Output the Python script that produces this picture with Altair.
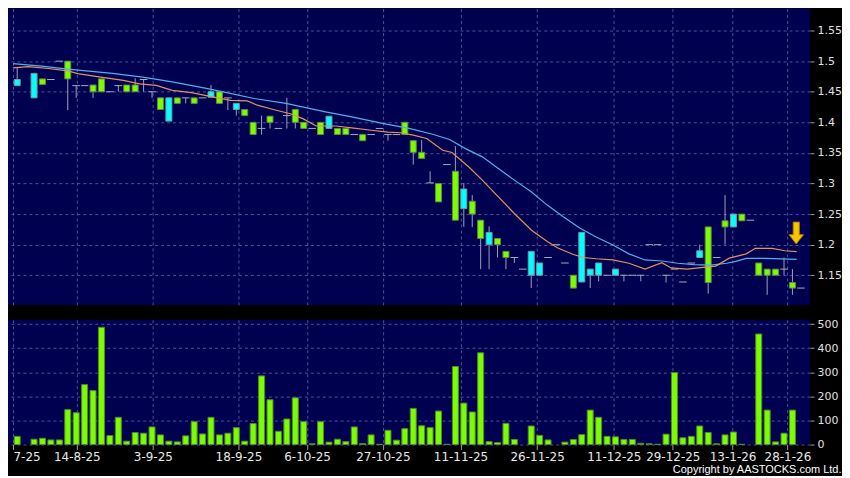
import altair as alt
import pandas as pd

# ---------------- data ----------------
slots = list(range(94))

open_ = [1.470, None, 1.480, 1.462, 1.470, 1.500, 1.471, 1.460, 1.460, 1.450,
         1.450, 1.450, 1.460, 1.450, 1.450, 1.470, 1.450, 1.421, 1.440, 1.431,
         1.440, 1.431, 1.440, 1.450, 1.431, 1.440, 1.431, 1.411, 1.380, 1.390,
         1.400, 1.390, 1.411, 1.400, 1.390, 1.390, 1.380, 1.410, 1.380, 1.380,
         1.380, 1.370, 1.380, 1.390, 1.380, 1.380, 1.380, 1.351, 1.341, 1.301,
         1.270, 1.331, 1.240, 1.291, 1.250, 1.210, 1.220, 1.200, 1.179, 1.179,
         1.160, 1.189, 1.170, 1.179, 1.200, 1.170, 1.129, 1.220, 1.160, 1.170,
         1.150, 1.160, 1.150, 1.150, 1.150, 1.200, 1.200, 1.150, 1.160, 1.139,
         1.170, 1.190, 1.138, 1.179, 1.229, 1.250, 1.239, 1.240, 1.150, 1.150,
         1.150, 1.160, 1.129, 1.129]
high = [1.490, None, 1.481, 1.471, 1.470, 1.500, 1.500, 1.460, 1.460, 1.461,
        1.471, 1.450, 1.460, 1.461, 1.472, 1.470, 1.450, 1.440, 1.440, 1.440,
        1.440, 1.440, 1.440, 1.461, 1.450, 1.440, 1.431, 1.421, 1.400, 1.411,
        1.410, 1.390, 1.440, 1.421, 1.400, 1.390, 1.400, 1.410, 1.390, 1.390,
        1.380, 1.380, 1.380, 1.390, 1.380, 1.380, 1.400, 1.370, 1.371, 1.320,
        1.300, 1.331, 1.361, 1.301, 1.281, 1.240, 1.230, 1.210, 1.189, 1.179,
        1.160, 1.189, 1.170, 1.179, 1.200, 1.170, 1.150, 1.220, 1.160, 1.170,
        1.150, 1.160, 1.150, 1.150, 1.150, 1.200, 1.200, 1.150, 1.160, 1.139,
        1.170, 1.200, 1.229, 1.179, 1.281, 1.250, 1.250, 1.240, 1.170, 1.160,
        1.160, 1.179, 1.160, 1.129]
low = [1.460, None, 1.440, 1.462, 1.470, 1.500, 1.420, 1.440, 1.460, 1.440,
       1.450, 1.450, 1.450, 1.450, 1.450, 1.450, 1.440, 1.421, 1.402, 1.431,
       1.431, 1.431, 1.440, 1.441, 1.431, 1.420, 1.411, 1.411, 1.380, 1.380,
       1.390, 1.390, 1.390, 1.390, 1.390, 1.390, 1.380, 1.390, 1.380, 1.380,
       1.380, 1.370, 1.380, 1.390, 1.370, 1.380, 1.380, 1.331, 1.341, 1.301,
       1.270, 1.331, 1.240, 1.229, 1.229, 1.160, 1.160, 1.179, 1.160, 1.170,
       1.160, 1.129, 1.150, 1.179, 1.200, 1.170, 1.129, 1.139, 1.129, 1.140,
       1.150, 1.150, 1.140, 1.150, 1.140, 1.200, 1.200, 1.138, 1.160, 1.139,
       1.170, 1.179, 1.120, 1.179, 1.200, 1.229, 1.239, 1.240, 1.150, 1.118,
       1.150, 1.150, 1.118, 1.129]
close = [1.460, None, 1.440, 1.471, 1.470, 1.500, 1.500, 1.460, 1.460, 1.461,
         1.471, 1.450, 1.460, 1.461, 1.461, 1.470, 1.450, 1.440, 1.402, 1.440,
         1.440, 1.440, 1.440, 1.441, 1.450, 1.440, 1.421, 1.421, 1.400, 1.390,
         1.410, 1.390, 1.411, 1.421, 1.400, 1.390, 1.400, 1.390, 1.390, 1.390,
         1.380, 1.380, 1.380, 1.390, 1.380, 1.380, 1.400, 1.370, 1.351, 1.301,
         1.300, 1.331, 1.320, 1.259, 1.271, 1.240, 1.200, 1.210, 1.189, 1.179,
         1.160, 1.150, 1.150, 1.179, 1.200, 1.170, 1.150, 1.139, 1.150, 1.150,
         1.150, 1.150, 1.150, 1.150, 1.150, 1.200, 1.200, 1.150, 1.160, 1.139,
         1.170, 1.179, 1.229, 1.179, 1.239, 1.229, 1.250, 1.240, 1.170, 1.160,
         1.160, 1.160, 1.138, 1.129]
volume = [34, 0, 22, 26, 19, 19, 145, 132, 249, 224,
          487, 37, 113, 14, 50, 47, 73, 40, 14, 11,
          36, 95, 44, 113, 40, 47, 70, 14, 87, 285,
          186, 55, 106, 194, 95, 3, 95, 10, 22, 12,
          73, 4, 40, 1, 59, 18, 66, 150, 78, 70,
          139, 1, 324, 172, 135, 381, 12, 8, 88, 21,
          0, 77, 38, 19, 0, 10, 21, 41, 143, 113,
          34, 32, 21, 21, 5, 3, 1, 43, 299, 28,
          34, 77, 50, 3, 40, 52, 1, 0, 459, 143,
          11, 47, 143, 0]

# moving averages (read at selected positions)
ma_blue_slot = [-0.5, 2.9, 6, 11.3, 14.9, 18.4, 22.3, 24.6, 28.1, 31.9, 36.6, 39.7,
                43.5, 46.5, 49.3, 51.3, 53.2, 55.2, 57.1, 59.0, 61.0, 62.9, 64.8,
                66.8, 68.7, 70.7, 72.6, 74.5, 76.5, 78.4, 80.3, 82.3, 84.2, 85.3,
                86.5, 88.8, 92.5]
ma_blue_val = [1.496, 1.492, 1.487, 1.480, 1.474, 1.466, 1.456, 1.4495, 1.439, 1.431,
               1.417, 1.409, 1.398, 1.390, 1.3805, 1.372, 1.357, 1.3435, 1.3245,
               1.3055, 1.2864, 1.2647, 1.2456, 1.2267, 1.2125, 1.1995, 1.185,
               1.175, 1.1733, 1.1696, 1.1675, 1.1665, 1.1696, 1.1728, 1.1777,
               1.1777, 1.176]
ma_orange_slot = [-0.5, 1.3, 3.7, 6, 7.2, 9.9, 12.6, 14.5, 16.5, 18.4, 20.7, 22.3,
                  23.8, 25.3, 27.3, 28.5, 30.4, 32.4, 33.9, 35.5, 37.8, 39.7, 42,
                  44, 45.5, 47, 48.6, 50.5, 51.6, 53.6, 55.2, 57.1, 59, 61, 62.9,
                  64.1, 66, 67.2, 68.7, 70.7, 72.6, 74.5, 76.5, 77.6, 79.5, 81.4,
                  82.9, 84.5, 86.5, 87.6, 89.6, 91.1, 92.5]
ma_orange_val = [1.489, 1.491, 1.488, 1.484, 1.4795, 1.474, 1.4686, 1.463, 1.4605,
                 1.4523, 1.4485, 1.4441, 1.440, 1.436, 1.435, 1.428, 1.421, 1.414,
                 1.406, 1.394, 1.394, 1.391, 1.387, 1.384, 1.383, 1.379, 1.3735,
                 1.3544, 1.3507, 1.327, 1.3055, 1.278, 1.251, 1.224, 1.205, 1.195,
                 1.184, 1.179, 1.177, 1.175, 1.1696, 1.160, 1.1706, 1.162, 1.160,
                 1.163, 1.165, 1.178, 1.185, 1.194, 1.194, 1.190, 1.1885]

# x axis ticks (slot positions) and their labels
xtick_vals = [-0.5, 7.08, 16.1, 26.25, 34.4, 43.4, 52.6, 61.7, 70.8, 77.8, 84.9, 91.4]
xtick_labels = ["7-25", "14-8-25", "3-9-25", "18-9-25", "6-10-25", "27-10-25",
                "11-11-25", "26-11-25", "11-12-25", "29-12-25", "13-1-26", "28-1-26"]
price_ticks = [1.15, 1.2, 1.25, 1.3, 1.35, 1.4, 1.45, 1.5, 1.55]
vol_ticks = [0, 100, 200, 300, 400, 500]

# latest-signal arrow marker
arrow_slot = [92.45]
arrow_price = [1.219]

# ---------------- frames ----------------
df = pd.DataFrame({"slot": slots, "open": open_, "high": high, "low": low,
                   "close": close, "vol": volume})
df["kind"] = ["up" if (o is not None and c > o) else
              ("down" if (o is not None and c < o) else "flat")
              for o, c in zip(open_, close)]
blue = pd.DataFrame({"slot": ma_blue_slot, "ma": ma_blue_val})
orange = pd.DataFrame({"slot": ma_orange_slot, "ma": ma_orange_val})
arrow = pd.DataFrame({"slot": arrow_slot, "price": arrow_price})

# ---------------- styling ----------------
FONT = "DejaVu Sans"
GRID = "#4f4f9c"
XDOM = [-0.5, 93.5]
PDOM = [1.1016, 1.586]
VDOM = [0, 518]
W = 804

label_expr = ("[" + ",".join("'%s'" % s for s in xtick_labels) + "][indexof(["
              + ",".join(str(v) for v in xtick_vals) + "], datum.value)]")

x_price_axis = alt.Axis(values=xtick_vals, labels=False, ticks=False, domain=False,
                        grid=True, gridColor=GRID, gridDash=[3, 3], title=None)
x_vol_axis = alt.Axis(values=xtick_vals, labelExpr=label_expr,
                      labelAlign={"condition": {"test": "datum.value < 0",
                                                "value": "left"},
                                  "value": "center"},
                      labelOverlap=False, labelBound=False, domain=False,
                      grid=True, gridColor=GRID,
                      gridDash=[3, 3], tickColor="#9a9a9a", tickSize=5,
                      labelPadding=2, labelColor="#e8e8e8", labelFont=FONT,
                      labelFontSize=12, title=None)
y_price_axis = alt.Axis(values=price_ticks, orient="right", domain=False,
                        labelExpr="format(datum.value, '.2~f')", grid=True,
                        labelOverlap=False, labelBound=False,
                        gridColor=GRID, gridDash=[3, 3], tickColor="#9a9a9a",
                        tickSize=4, labelPadding=3, labelColor="#e0e0e0",
                        labelFont=FONT, labelFontSize=11, title=None)
y_vol_axis = alt.Axis(values=vol_ticks, orient="right", domain=False, format="d",
                      labelOverlap=False,
                      grid=True, gridColor=GRID, gridDash=[3, 3],
                      tickColor="#9a9a9a", tickSize=4, labelPadding=3,
                      labelColor="#e0e0e0", labelFont=FONT, labelFontSize=11,
                      title=None)

xs = alt.Scale(domain=XDOM, nice=False, zero=False)
ps = alt.Scale(domain=PDOM, nice=False, zero=False)


def X(field):
    return alt.X(field, scale=xs, axis=x_price_axis)


def Y(field):
    return alt.Y(field, scale=ps, axis=y_price_axis)


base = alt.Chart(df)

wicks = base.transform_filter(
    "isValid(datum.high) && datum.high > datum.low"
).mark_rule(color="#a0a0b4", strokeWidth=1).encode(
    x=X("slot:Q"), y=Y("low:Q"), y2="high:Q",
)

doji = base.transform_filter(
    "isValid(datum.open) && datum.open == datum.close"
).transform_calculate(
    xa="datum.slot - 0.45", xb="datum.slot + 0.45"
).mark_rule(color="#a8a8b8", strokeWidth=1).encode(
    x=X("xa:Q"), x2="xb:Q", y=Y("close:Q"),
)

bodies = base.transform_filter(
    "isValid(datum.open) && datum.open != datum.close"
).mark_bar(size=6, strokeWidth=1).encode(
    x=X("slot:Q"), y=Y("open:Q"), y2="close:Q",
    fill=alt.Fill("kind:N", scale=alt.Scale(domain=["up", "down"],
                                            range=["#7cfc00", "#00ffff"]),
                  legend=None),
    stroke=alt.Stroke("kind:N", scale=alt.Scale(domain=["up", "down"],
                                                range=["#5f8a45", "#6f9aa0"]),
                      legend=None),
)

ma_orange_line = alt.Chart(orange).mark_line(
    color="#e4905e", strokeWidth=1.2, interpolate="linear"
).encode(x=X("slot:Q"), y=Y("ma:Q"))

ma_blue_line = alt.Chart(blue).mark_line(
    color="#4fb0ee", strokeWidth=1.2, interpolate="linear"
).encode(x=X("slot:Q"), y=Y("ma:Q"))

arrow_shape = ("M-0.28,-1 L0.28,-1 L0.28,0.15 L0.66,0.15 L0,1 "
               "L-0.66,0.15 L-0.28,0.15 Z")
arrow_mark = alt.Chart(arrow).mark_point(
    shape=arrow_shape, filled=True, fill="#f7c600", stroke="#b07800",
    strokeWidth=1, size=480, opacity=1
).encode(x=X("slot:Q"), y=Y("price:Q"))

price = alt.layer(wicks, doji, bodies, ma_blue_line, ma_orange_line,
                  arrow_mark).properties(width=W, height=297)

vol = alt.Chart(df).transform_filter("datum.vol > 0").mark_bar(
    size=6, fill="#7cfc00", stroke="#4d8a2a", strokeWidth=1
).encode(
    x=alt.X("slot:Q", scale=xs, axis=x_vol_axis),
    y=alt.Y("vol:Q", scale=alt.Scale(domain=VDOM, nice=False), axis=y_vol_axis),
).properties(width=W, height=125)

chart = alt.vconcat(price, vol, spacing=13).properties(
    padding=0,
    title=alt.TitleParams("Copyright by AASTOCKS.com Ltd.", orient="bottom",
                          anchor="end", font="Liberation Sans", fontSize=11,
                          fontWeight="normal", color="#ffffff", offset=2),
).configure(background="#000000").configure_view(
    fill="#000050", strokeWidth=0
).configure_axis(labelOverlap=False)

chart.save("out.html", embed_options={"renderer": "svg", "actions": False})
